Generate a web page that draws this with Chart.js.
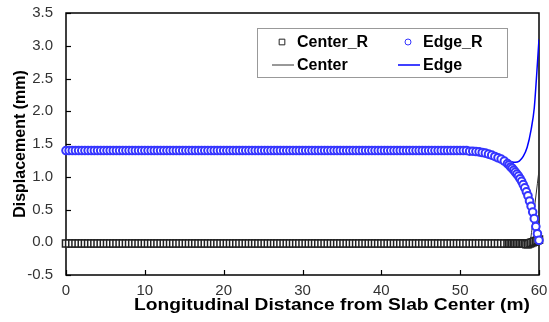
<!DOCTYPE html>
<html>
<head>
<meta charset="utf-8">
<script src="https://cdn.jsdelivr.net/npm/chart.js@4.4.1/dist/chart.umd.min.js"></script>
<style>
  html, body { margin: 0; padding: 0; background: #fff; }
</style>
</head>
<body>
<canvas id="dispChart" width="549" height="322"></canvas>
<script>
// stations for the _R results (m): 0.4 m spacing, 0.2 m over the last 4 m
const stations = [];
for (let i = 0; i <= 140; i++) stations.push(+(i * 0.4).toFixed(1));
for (let i = 1; i <= 20; i++) stations.push(+(56 + i * 0.2).toFixed(1));

// displacement at slab centre line (mm)
const centerR = [
  -0.02, -0.02, -0.02, -0.02, -0.02, -0.02, -0.02, -0.02, -0.02, -0.02,
  -0.02, -0.02, -0.02, -0.02, -0.02, -0.02, -0.02, -0.02, -0.02, -0.02,
  -0.02, -0.02, -0.02, -0.02, -0.02, -0.02, -0.02, -0.02, -0.02, -0.02,
  -0.02, -0.02, -0.02, -0.02, -0.02, -0.02, -0.02, -0.02, -0.02, -0.02,
  -0.02, -0.02, -0.02, -0.02, -0.02, -0.02, -0.02, -0.02, -0.02, -0.02,
  -0.02, -0.02, -0.02, -0.02, -0.02, -0.02, -0.02, -0.02, -0.02, -0.02,
  -0.02, -0.02, -0.02, -0.02, -0.02, -0.02, -0.02, -0.02, -0.02, -0.02,
  -0.02, -0.02, -0.02, -0.02, -0.02, -0.02, -0.02, -0.02, -0.02, -0.02,
  -0.02, -0.02, -0.02, -0.02, -0.02, -0.02, -0.02, -0.02, -0.02, -0.02,
  -0.02, -0.02, -0.02, -0.02, -0.02, -0.02, -0.02, -0.02, -0.02, -0.02,
  -0.02, -0.02, -0.02, -0.02, -0.02, -0.02, -0.02, -0.02, -0.02, -0.02,
  -0.02, -0.02, -0.02, -0.02, -0.02, -0.02, -0.02, -0.02, -0.02, -0.02,
  -0.02, -0.02, -0.02, -0.02, -0.02, -0.02, -0.02, -0.02, -0.02, -0.02,
  -0.02, -0.02, -0.02, -0.02, -0.02, -0.02, -0.02, -0.02, -0.02, -0.02,
  -0.02,
  -0.02, -0.02, -0.02, -0.02, -0.02, -0.02, -0.02, -0.02, -0.02, -0.02,
  -0.02, -0.03, -0.03, -0.02, -0.01, 0.00, 0.01, 0.02, 0.03, 0.04
];

// displacement at slab edge (mm)
const edgeR = [
  1.40, 1.40, 1.40, 1.40, 1.40, 1.40, 1.40, 1.40, 1.40, 1.40,
  1.40, 1.40, 1.40, 1.40, 1.40, 1.40, 1.40, 1.40, 1.40, 1.40,
  1.40, 1.40, 1.40, 1.40, 1.40, 1.40, 1.40, 1.40, 1.40, 1.40,
  1.40, 1.40, 1.40, 1.40, 1.40, 1.40, 1.40, 1.40, 1.40, 1.40,
  1.40, 1.40, 1.40, 1.40, 1.40, 1.40, 1.40, 1.40, 1.40, 1.40,
  1.40, 1.40, 1.40, 1.40, 1.40, 1.40, 1.40, 1.40, 1.40, 1.40,
  1.40, 1.40, 1.40, 1.40, 1.40, 1.40, 1.40, 1.40, 1.40, 1.40,
  1.40, 1.40, 1.40, 1.40, 1.40, 1.40, 1.40, 1.40, 1.40, 1.40,
  1.40, 1.40, 1.40, 1.40, 1.40, 1.40, 1.40, 1.40, 1.40, 1.40,
  1.40, 1.40, 1.40, 1.40, 1.40, 1.40, 1.40, 1.40, 1.40, 1.40,
  1.40, 1.40, 1.40, 1.40, 1.40, 1.40, 1.40, 1.40, 1.40, 1.40,
  1.40, 1.40, 1.40, 1.40, 1.40, 1.40, 1.40, 1.40, 1.40, 1.40,
  1.40, 1.40, 1.40, 1.40, 1.40, 1.40,
  1.40, 1.40, 1.39, 1.39, 1.385, 1.38, 1.37, 1.36, 1.345, 1.33,
  1.31, 1.29, 1.27, 1.24, 1.20,
  1.18, 1.15, 1.13, 1.10, 1.07, 1.04, 1.01, 0.97, 0.93, 0.88,
  0.83, 0.77, 0.71, 0.63, 0.55, 0.46, 0.36, 0.24, 0.13, 0.03
];

// analysis curves
const centerX = [0, 10, 20, 30, 40, 50, 56, 58, 58.5, 58.9, 59.2, 59.5, 59.8, 60];
const centerY = [-0.02, -0.02, -0.02, -0.02, -0.02, -0.02, -0.02, -0.02, -0.03, 0.03, 0.30, 0.60, 0.90, 1.10];

const edgeX = [0, 10, 20, 30, 40, 50, 52, 54, 55, 56, 56.5, 57, 57.5, 58, 58.5, 59, 59.4, 59.7, 60];
const edgeY = [1.40, 1.40, 1.40, 1.40, 1.40, 1.40, 1.39, 1.34, 1.29, 1.25, 1.23, 1.22, 1.24, 1.31, 1.45, 1.72, 2.05, 2.55, 3.10];

const yTicks = [-0.5, 0, 0.5, 1, 1.5, 2, 2.5, 3, 3.5];
const xTicks = [0, 10, 20, 30, 40, 50, 60];
const xTitle = 'Longitudinal Distance from Slab Center (m)';

const toPoints = (xs, ys) => xs.map((x, i) => ({ x: x, y: ys[i] }));

Chart.defaults.font.family = "'Liberation Sans', Arial, sans-serif";

// box frame + inward tick marks
const frame = {
  id: 'frame',
  beforeDatasetsDraw(chart) {
    const { ctx, chartArea: a, scales } = chart;
    ctx.save();
    ctx.strokeStyle = '#000';
    ctx.lineWidth = 1.2;
    xTicks.forEach(v => {
      const px = Math.round(scales.x.getPixelForValue(v)) + 0.5;
      ctx.beginPath();
      ctx.moveTo(px, a.bottom);
      ctx.lineTo(px, a.bottom - 5);
      ctx.stroke();
    });
    yTicks.forEach(v => {
      const py = Math.round(scales.y.getPixelForValue(v)) + 0.5;
      ctx.beginPath();
      ctx.moveTo(a.left, py);
      ctx.lineTo(a.left + 5, py);
      ctx.stroke();
    });
    ctx.lineWidth = 1.5;
    ctx.strokeRect(a.left, a.top, a.right - a.left, a.bottom - a.top);
    ctx.restore();
  },
  afterDraw(chart) {
    // wide bold axis title under the x axis
    const ctx = chart.ctx;
    ctx.save();
    ctx.translate(332, 310);
    ctx.scale(1.2, 1);
    ctx.fillStyle = '#000';
    ctx.font = "bold 16px 'Liberation Sans', Arial, sans-serif";
    ctx.textAlign = 'center';
    ctx.textBaseline = 'alphabetic';
    ctx.fillText(xTitle, 0, 0);
    ctx.restore();
  }
};

// legend drawn inside the plot, two columns
const boxLegend = {
  id: 'boxLegend',
  afterDraw(chart) {
    const ctx = chart.ctx;
    const ds = chart.data.datasets;
    const cells = [
      { x: 297, y: 42 }, { x: 423, y: 42 },
      { x: 297, y: 65 }, { x: 423, y: 65 }
    ];
    ctx.save();
    ctx.fillStyle = '#fff';
    ctx.fillRect(257, 28, 250, 49);
    ctx.strokeStyle = '#999';
    ctx.lineWidth = 1;
    ctx.strokeRect(257.5, 28.5, 250, 49);
    ds.forEach((d, i) => {
      const c = cells[i];
      if (d.showLine) {
        ctx.strokeStyle = d.borderColor;
        ctx.lineWidth = d.borderWidth;
        ctx.beginPath();
        ctx.moveTo(c.x - 25, c.y);
        ctx.lineTo(c.x - 3, c.y);
        ctx.stroke();
      } else {
        ctx.strokeStyle = d.borderColor;
        ctx.fillStyle = '#fff';
        ctx.lineWidth = 1;
        Chart.helpers.drawPoint(ctx, {
          pointStyle: d.pointStyle,
          radius: d.pointStyle === 'rect' ? 4 : 3,
          rotation: 0,
          borderWidth: 1
        }, c.x - 15, c.y);
      }
      ctx.fillStyle = '#000';
      ctx.font = "bold 16px 'Liberation Sans', Arial, sans-serif";
      ctx.textBaseline = 'middle';
      ctx.textAlign = 'left';
      ctx.fillText(d.label, c.x, c.y + 1);
    });
    ctx.restore();
  }
};

// tick marks are drawn by the frame plugin; the hidden ones only space the labels
const spacerGrid = len => ({
  display: true,
  drawOnChartArea: false,
  drawTicks: true,
  tickLength: len,
  color: 'rgba(0,0,0,0)'
});

new Chart(document.getElementById('dispChart').getContext('2d'), {
  type: 'scatter',
  data: {
    datasets: [
      {
        label: 'Center_R',
        data: toPoints(stations, centerR),
        showLine: false,
        pointStyle: 'rect',
        pointRadius: 5,
        borderColor: '#222',
        backgroundColor: '#fff',
        borderWidth: 1.5,
        clip: false,
        order: 1
      },
      {
        label: 'Edge_R',
        data: toPoints(stations, edgeR),
        showLine: false,
        pointStyle: 'circle',
        pointRadius: 3.8,
        borderColor: '#3535ff',
        backgroundColor: '#fff',
        borderWidth: 2,
        clip: false,
        order: 0
      },
      {
        label: 'Center',
        data: toPoints(centerX, centerY),
        showLine: true,
        pointRadius: 0,
        borderColor: '#333',
        borderWidth: 1,
        cubicInterpolationMode: 'monotone',
        order: 3
      },
      {
        label: 'Edge',
        data: toPoints(edgeX, edgeY),
        showLine: true,
        pointRadius: 0,
        borderColor: '#0000ff',
        borderWidth: 1.5,
        cubicInterpolationMode: 'monotone',
        order: 2
      }
    ]
  },
  options: {
    responsive: false,
    animation: false,
    layout: { padding: { top: 13, right: 10, left: 0, bottom: 0 } },
    plugins: {
      legend: { display: false },
      tooltip: { enabled: false }
    },
    scales: {
      x: {
        type: 'linear',
        min: 0,
        max: 60,
        afterFit: s => { s.height = 47; },
        afterBuildTicks: s => { s.ticks = xTicks.map(v => ({ value: v })); },
        grid: spacerGrid(7),
        border: { display: false },
        ticks: { color: '#333', font: { size: 15 }, padding: 0 }
      },
      y: {
        min: -0.5,
        max: 3.5,
        afterFit: s => { s.width = 66; },
        afterBuildTicks: s => { s.ticks = yTicks.map(v => ({ value: v })); },
        grid: spacerGrid(13),
        border: { display: false },
        ticks: {
          color: '#333',
          font: { size: 15 },
          padding: 0,
          callback: v => v.toFixed(1)
        },
        title: {
          display: true,
          text: 'Displacement (mm)',
          color: '#000',
          font: { size: 16, weight: 'bold' },
          padding: { top: 11, bottom: 0 }
        }
      }
    }
  },
  plugins: [frame, boxLegend]
});
</script>
</body>
</html>
